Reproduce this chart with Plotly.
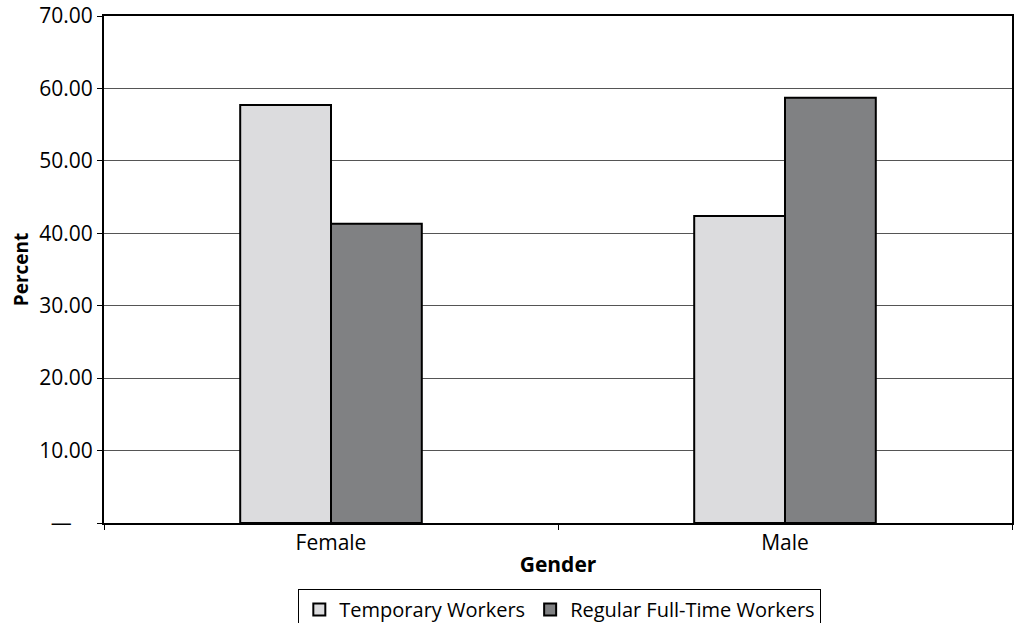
import plotly.graph_objects as go

genders = ["Female", "Male"]
temporary = [57.7, 42.4]
regular = [41.3, 58.7]
y_ticks = [0, 10, 20, 30, 40, 50, 60, 70]
y_tick_text = ["—\u2002\u2002", "10.00", "20.00", "30.00", "40.00", "50.00", "60.00", "70.00"]

fig = go.Figure()
fig.add_trace(go.Bar(
    x=genders, y=temporary, name="Temporary Workers",
    marker=dict(color="#dcdcde", line=dict(color="black", width=2)),
))
fig.add_trace(go.Bar(
    x=genders, y=regular, name="Regular Full-Time Workers",
    marker=dict(color="#808183", line=dict(color="black", width=2)),
))

fig.update_layout(
    width=1014, height=623,
    margin=dict(l=104, r=2, t=16, b=100, autoexpand=False),
    paper_bgcolor="white", plot_bgcolor="white",
    barmode="group", bargap=0.6, bargroupgap=0,
    font=dict(family="Open Sans", size=21, color="black"),
    showlegend=True,
    legend=dict(
        orientation="h", x=0.502, xanchor="center", y=-0.13, yanchor="top",
        bordercolor="black", borderwidth=1, font=dict(size=20),
        itemwidth=30, tracegroupgap=0,
    ),
    xaxis=dict(
        showline=True, linecolor="black", linewidth=2, mirror=True,
        ticks="outside", tickson="boundaries", ticklen=5, tickcolor="black",
        title=dict(text="<b>Gender</b>", font=dict(size=21), standoff=2),
    ),
    yaxis=dict(
        range=[0, 70], tickvals=y_ticks, ticktext=y_tick_text,
        showline=True, linecolor="black", linewidth=2, mirror=True,
        ticks="outside", ticklen=5, tickcolor="black",
        showgrid=True, gridcolor="#555555", gridwidth=1,
        zeroline=False,
        title=dict(text="<b>Percent</b>", font=dict(size=19), standoff=6),
    ),
)

fig.write_html("out.html")
